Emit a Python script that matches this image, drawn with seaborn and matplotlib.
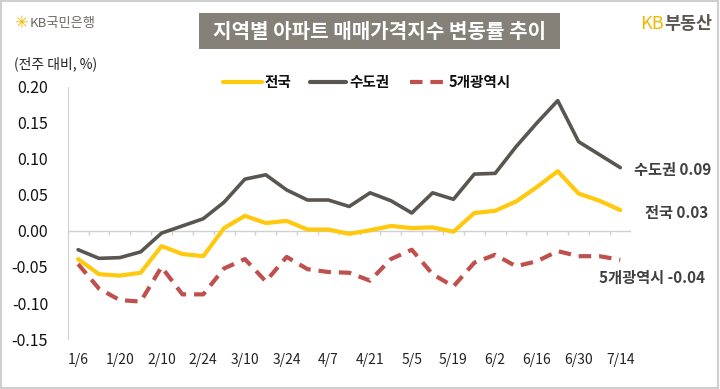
import numpy as np
import pandas as pd
import matplotlib
matplotlib.use("Agg")
import matplotlib.pyplot as plt
import seaborn as sns
from matplotlib.patches import Rectangle

# data (weekly change, %)
weeks = ["1/6", "1/13", "1/20", "2/3", "2/10", "2/17", "2/24", "3/3", "3/10",
         "3/17", "3/24", "3/31", "4/7", "4/14", "4/21", "4/28", "5/5", "5/12",
         "5/19", "5/26", "6/2", "6/9", "6/16", "6/23", "6/30", "7/7", "7/14"]
national = [-0.039, -0.060, -0.062, -0.058, -0.021, -0.032, -0.035, 0.004, 0.021,
            0.011, 0.014, 0.002, 0.002, -0.004, 0.001, 0.007, 0.004, 0.005,
            -0.001, 0.025, 0.028, 0.041, 0.061, 0.083, 0.052, 0.042, 0.029]
capital = [-0.026, -0.038, -0.037, -0.029, -0.003, 0.007, 0.017, 0.040, 0.072,
           0.078, 0.057, 0.043, 0.043, 0.034, 0.053, 0.042, 0.025, 0.053,
           0.044, 0.079, 0.080, 0.117, 0.150, 0.181, 0.124, 0.106, 0.088]
metro5 = [-0.046, -0.080, -0.096, -0.098, -0.050, -0.088, -0.088, -0.052, -0.039,
          -0.070, -0.036, -0.053, -0.057, -0.058, -0.069, -0.039, -0.026, -0.060,
          -0.077, -0.044, -0.033, -0.049, -0.042, -0.028, -0.035, -0.035, -0.040]
series_names = ["전국", "수도권", "5개광역시"]
end_labels = ["전국 0.03", "수도권 0.09", "5개광역시 -0.04"]
yticks = [-0.15, -0.10, -0.05, 0.00, 0.05, 0.10, 0.15, 0.20]

colors = {"전국": "#FFC90E", "수도권": "#595550", "5개광역시": "#C0504D"}
dash = (3.0, 1.9)

sns.set_style("white")
plt.rcParams["font.family"] = ["Noto Sans CJK KR", "DejaVu Sans"]

df = pd.DataFrame({"week": weeks, "전국": national, "수도권": capital, "5개광역시": metro5})
df["x"] = np.arange(len(weeks))
long = df.melt(id_vars=["week", "x"], value_vars=series_names,
               var_name="series", value_name="value")

fig = plt.figure(figsize=(7.2, 3.89), dpi=100)
ax = fig.add_axes([0.094, 0.1285, 0.782, 0.648])

sns.lineplot(data=long, x="x", y="value", hue="series", style="series",
             palette=colors, hue_order=series_names, style_order=series_names,
             dashes={"전국": "", "수도권": "", "5개광역시": dash},
             linewidth=3, ax=ax, legend=False, sort=False)
# thinner grey line
for line in ax.get_lines():
    if line.get_color() in ("#595550",):
        line.set_linewidth(2.6)

n = len(weeks)
ax.set_xlim(-0.5, n - 0.5)
ax.set_ylim(-0.15, 0.20)
ax.set_yticks(yticks)
ax.set_yticklabels([f"{v:.2f}" for v in yticks], fontsize=11.5, color="#111111")
ax.set_xticks(df["x"][::2])
ax.set_xticklabels(df["week"][::2], fontsize=10, color="#222222")
ax.set_xlabel("")
ax.set_ylabel("")

for s in ["top", "right", "bottom"]:
    ax.spines[s].set_visible(False)
ax.spines["left"].set_color("#D0D0D0")
ax.tick_params(axis="y", length=4, color="#D0D0D0", width=1, pad=10)
ax.tick_params(axis="x", length=0, pad=10)

# zero line with category boundary ticks
ax.axhline(0, color="#D0D0D0", lw=1, zorder=0)
ax.vlines(np.arange(n + 1) - 0.5, -0.0055, 0, color="#D0D0D0", lw=1, zorder=0)

# end labels
last = {"전국": national[-1], "수도권": capital[-1], "5개광역시": metro5[-1]}
ax.annotate(end_labels[1], (n - 1, last["수도권"]), xytext=(10, -2),
            textcoords="offset points", fontsize=11, fontweight="bold",
            color="#404040", va="center", annotation_clip=False)
ax.annotate(end_labels[0], (n - 1, last["전국"]), xytext=(18, -2),
            textcoords="offset points", fontsize=11, fontweight="bold",
            color="#404040", va="center", annotation_clip=False)
ax.annotate(end_labels[2], (n - 1, last["5개광역시"]), xytext=(-15, -13),
            textcoords="offset points", fontsize=11, fontweight="bold",
            color="#404040", va="center", annotation_clip=False)

# title box
fig.patches.append(Rectangle((199 / 720, 1 - 49 / 389), 361 / 720, 36 / 389,
                             transform=fig.transFigure, facecolor="#858078",
                             edgecolor="none"))
fig.text(379.5 / 720, 1 - 31 / 389, "지역별 아파트 매매가격지수 변동률 추이",
         ha="center", va="center", fontsize=14.5, fontweight="bold", color="white")

# logos
fig.text(14 / 720, 1 - 23 / 389, "✳", fontsize=12, color="#F2B705",
         ha="left", va="center", family=["DejaVu Sans"])
fig.text(30 / 720, 1 - 23 / 389, "KB국민은행", fontsize=9.5, color="#6E6A64",
         ha="left", va="center")
fig.text(640 / 720, 1 - 24 / 389, "KB", fontsize=13, color="#F2B705",
         ha="left", va="center")
fig.text(664 / 720, 1 - 24 / 389, "부동산", fontsize=12.5, color="#5A5550",
         ha="left", va="center", fontweight="bold")

# unit label
fig.text(14 / 720, 1 - 64 / 389, "(전주 대비, %)", fontsize=10, color="#222222",
         ha="left", va="center")

# legend (manual)
leg_y = 1 - 82 / 389
legend_x = [(223, 262), (310, 346), (410, 446)]
for name, (x0, x1) in zip(series_names, legend_x):
    ls = (0, dash) if name == "5개광역시" else "-"
    fig.add_artist(plt.Line2D([x0 / 720, x1 / 720], [leg_y, leg_y],
                              transform=fig.transFigure, color=colors[name],
                              lw=3, linestyle=ls))
    fig.text((x1 + 3) / 720, leg_y, name, fontsize=10.5, fontweight="bold",
             color="#111111", ha="left", va="center")

# outer border
fig.patches.append(Rectangle((0.002, 0.003), 0.995, 0.994, transform=fig.transFigure,
                             facecolor="none", edgecolor="#CFCFCF", lw=1.5))

fig.savefig("out.png", dpi=100)
